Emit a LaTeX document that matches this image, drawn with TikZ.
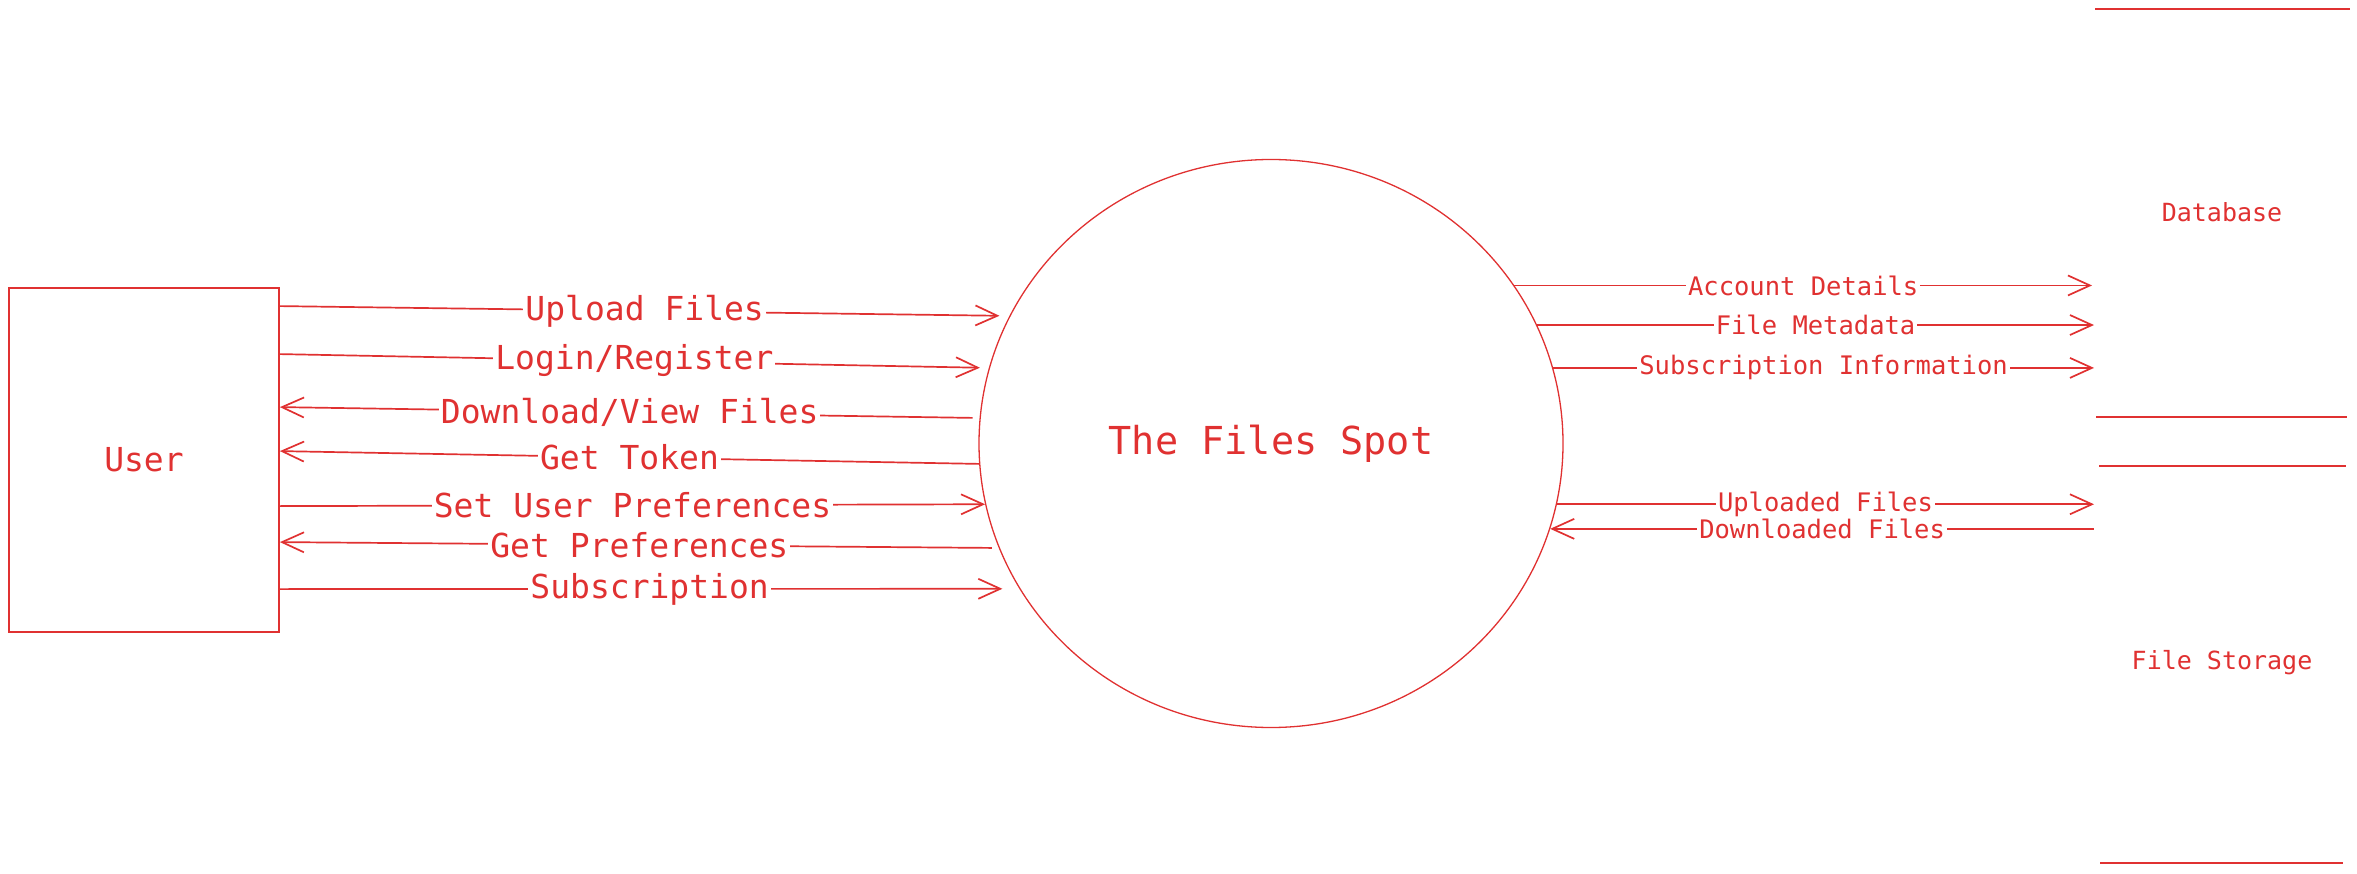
\documentclass[tikz,border=0pt]{standalone}
\usepackage{fontspec}
\setmonofont{DejaVu Sans Mono}
\usepackage{xcolor}
\usepackage{tikz}
\usetikzlibrary{shapes.geometric,arrows.meta}

\definecolor{exred}{HTML}{E03131}
\newcommand{\mono}[1]{\ttfamily\fontsize{#1}{#1}\selectfont}

\begin{document}
\begin{tikzpicture}[
    x=1pt, y=-1pt, color=exred,
    box/.style={draw, line width=1.8pt, minimum width=270pt,
                minimum height=344pt, font=\mono{33}},
    proc/.style={draw, ellipse, line width=1.3pt, minimum width=584pt,
                 minimum height=568pt, font=\mono{38.5}},
    fwd/.style={-{Straight Barb[length=22pt,width=20pt]}, line width=1.7pt},
    back/.style={{Straight Barb[length=22pt,width=20pt]}-, line width=1.7pt},
    lbl/.style={fill=white, inner sep=2pt, font=\mono{33}},
    slbl/.style={fill=white, inner sep=2pt, font=\mono{25.5}},
    store/.style={font=\mono{25}},
    rule/.style={line width=1.7pt}
  ]
    \useasboundingbox (0,0) rectangle (2357,874);

    \node[box] (user) at (144,460) {User};
    \node[proc] (spot) at (1271,443.5) {The Files Spot};

    % data stores
    \node[store] (db) at (2222,212) {Database};
    \node[store] (fs) at (2222,663) {File Storage};
    \draw[rule] (2095,9) -- (2350,9);
    \draw[rule] (2096,417) -- (2347,417);
    \draw[rule] (2099,466) -- (2346,466);
    \draw[rule] (2100,863) -- (2343,863);
    \coordinate (dbin) at (2092,0);
    \coordinate (fsin) at (2094,0);

    % user <-> system
    \draw[fwd, shorten >=10pt] ([yshift=-19pt]user.north east) -- (spot.154)
        node[lbl, midway] {Upload Files};
    \draw[fwd, shorten >=9pt] ([yshift=-67pt]user.north east) -- (spot.165)
        node[lbl, midway] {Login/Register};
    \draw[back, shorten >=7pt] ([yshift=-120pt]user.north east) -- (spot.175)
        node[lbl, midway] {Download/View Files};
    \draw[back] ([yshift=-164pt]user.north east) -- (spot.184)
        node[lbl, midway] {Get Token};
    \draw[fwd] ([yshift=-219pt]user.north east) -- (spot.192)
        node[lbl, midway] {Set User Preferences};
    \draw[back, shorten >=7pt] ([yshift=-255pt]user.north east) -- (spot.201)
        node[lbl, midway] {Get Preferences};
    \draw[fwd, shorten >=17pt] ([yshift=-302pt]user.north east) -- (spot.210)
        node[lbl, midway] {Subscription};

    % system <-> stores
    \draw[fwd] (spot.33) -- (spot.33 -| dbin)
        node[slbl, midway] {Account Details};
    \draw[fwd] (spot.24) -- (spot.24 -| fsin)
        node[slbl, midway] {File Metadata};
    \draw[fwd] (spot.15) -- (spot.15 -| fsin)
        node[slbl, midway] {Subscription Information};
    \draw[fwd] (spot.-12) -- (spot.-12 -| fsin)
        node[slbl, midway] {Uploaded Files};
    \draw[back] (spot.-17) -- (spot.-17 -| fsin)
        node[slbl, midway] {Downloaded Files};
\end{tikzpicture}
\end{document}
